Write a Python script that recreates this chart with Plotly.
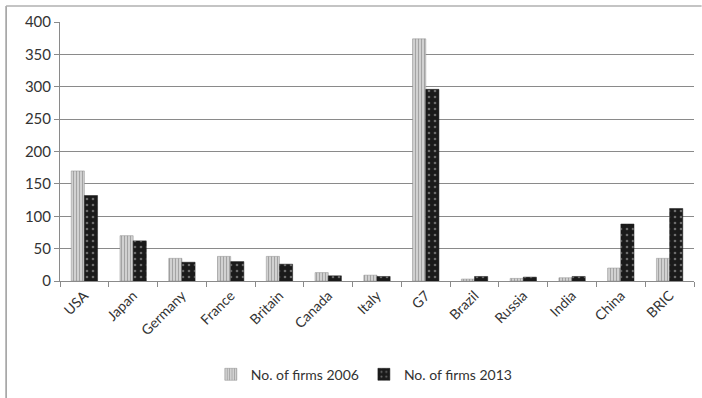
import plotly.graph_objects as go

categories = ["USA", "Japan", "Germany", "France", "Britain", "Canada", "Italy",
              "G7", "Brazil", "Russia", "India", "China", "BRIC"]
firms_2006 = [170, 70, 35, 38, 38, 13, 9, 374, 3, 4, 5, 20, 35]
firms_2013 = [132, 62, 29, 30, 26, 8, 7, 296, 7, 6, 7, 88, 112]
y_ticks = [0, 50, 100, 150, 200, 250, 300, 350, 400]

fig = go.Figure()
fig.add_trace(go.Bar(
    x=categories, y=firms_2006, name="No. of firms 2006",
    marker=dict(color="#8c8c8c", line=dict(width=0.5, color="#8c8c8c"),
                pattern=dict(shape="|", fgcolor="#666666", bgcolor="#e0e0e0",
                             size=3, solidity=0.5)),
))
fig.add_trace(go.Bar(
    x=categories, y=firms_2013, name="No. of firms 2013",
    marker=dict(color="#1a1a1a", line=dict(width=0.5, color="#1a1a1a"),
                pattern=dict(shape=".", fgcolor="#bdbdbd", bgcolor="#1a1a1a",
                             size=6, solidity=0.15)),
))

fig.update_layout(
    width=702, height=398,
    margin=dict(l=60, r=8, t=22, b=117, autoexpand=False),
    paper_bgcolor="white", plot_bgcolor="white",
    barmode="group", bargap=0.46, bargroupgap=0,
    font=dict(family="Lato, Open Sans, Liberation Sans, sans-serif", size=14, color="#333333"),
    legend=dict(orientation="h", x=0.48, xanchor="center", y=-0.30, yanchor="top",
                font=dict(size=14, color="#333333"), itemwidth=30, tracegroupgap=0),
    showlegend=True,
)
fig.update_xaxes(
    tickangle=-45, showline=True, linecolor="#8a8a8a", linewidth=1,
    ticks="outside", tickson="boundaries", ticklen=5, tickcolor="#8a8a8a",
    showgrid=False, tickfont=dict(size=14), automargin=False,
)
fig.update_yaxes(
    range=[0, 400], tickvals=y_ticks, showline=True, linecolor="#8a8a8a",
    ticks="outside", ticklen=5, tickcolor="#8a8a8a",
    showgrid=True, gridcolor="#8a8a8a", gridwidth=1, zeroline=False,
    tickfont=dict(size=15), automargin=False,
)
# outer chart border (left and top edges visible in the reference)
fig.add_shape(type="line", xref="paper", yref="paper",
              x0=-0.085, x1=-0.085, y0=-0.46, y1=1.062,
              line=dict(color="#9a9a9a", width=1.5), layer="above")
fig.add_shape(type="line", xref="paper", yref="paper",
              x0=-0.085, x1=1.012, y0=1.062, y1=1.062,
              line=dict(color="#b0b0b0", width=1.5), layer="above")

fig.write_html("out.html")
